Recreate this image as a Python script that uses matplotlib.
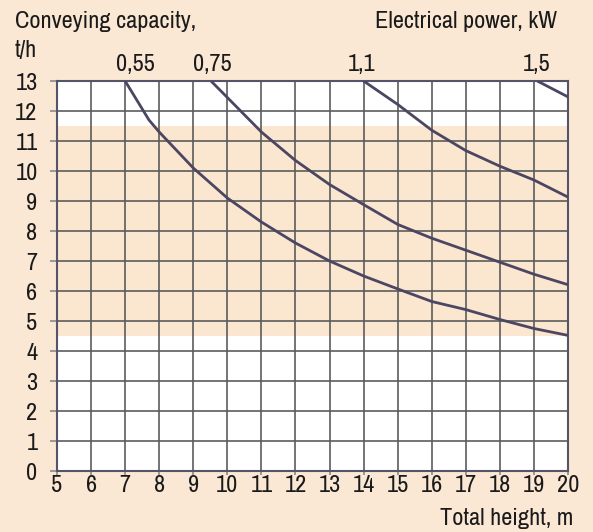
import matplotlib
matplotlib.use("Agg")
import matplotlib.pyplot as plt
import matplotlib.transforms as mtrans
from matplotlib import font_manager as fm

# ---- data ----
x_055 = [7, 7.7, 8, 9, 10, 11, 12, 13, 14, 15, 16, 17, 18, 19, 20]
y_055 = [13, 11.7, 11.3, 10.1, 9.1, 8.3, 7.6, 7.0, 6.5, 6.07, 5.65, 5.38, 5.05, 4.75, 4.52]

x_075 = [9.52, 10, 11, 12, 13, 14, 15, 16, 17, 18, 19, 20]
y_075 = [13, 12.45, 11.3, 10.35, 9.55, 8.88, 8.22, 7.76, 7.36, 6.96, 6.56, 6.21]

x_11 = [14, 15, 16, 17, 18, 19, 20]
y_11 = [13, 12.22, 11.36, 10.68, 10.16, 9.7, 9.13]

x_15 = [19.1, 20]
y_15 = [13, 12.47]

power_labels = ["0,55", "0,75", "1,1", "1,5"]
power_label_x = [7.29, 9.56, 13.94, 19.07]

band_low, band_high = 4.5, 11.5
x_ticks = list(range(5, 21))
y_ticks = list(range(0, 14))

# ---- font choice: prefer a condensed sans if one is installed ----
names = {f.name: f for f in fm.fontManager.ttflist}
font_kw = {"family": ["Liberation Sans", "DejaVu Sans"]}
narrow = [n for n in names if "Narrow" in n or "Condensed" in n]
if "Liberation Sans Narrow" in names:
    font_kw = {"family": ["Liberation Sans Narrow", "DejaVu Sans"]}
elif narrow:
    font_kw = {"family": [narrow[0], "DejaVu Sans"]}
else:
    cond = [f for f in fm.fontManager.ttflist
            if f.name == "DejaVu Sans" and "Condensed" in f.fname]
    if cond:
        font_kw = {"family": ["DejaVu Sans"], "stretch": "condensed"}
plt.rcParams["font.family"] = font_kw["family"]
if "stretch" in font_kw:
    plt.rcParams["font.stretch"] = font_kw["stretch"]

# ---- style ----
BG = "#fbe8d4"
BAND = "#fbe6d0"
GRID = "#5c5c5c"
CURVE = "#4b4662"
TXT = "#1a1a1a"
FS = 17.5

W, H = 593, 532
fig = plt.figure(figsize=(W / 100, H / 100), dpi=100, facecolor=BG)
L, R, T, B = 57, 568, 81, 471
ax = fig.add_axes([L / W, 1 - B / H, (R - L) / W, (B - T) / H])
ax.set_facecolor("white")

ax.axhspan(band_low, band_high, color=BAND, zorder=0, lw=0)

ax.set_xlim(5, 20)
ax.set_ylim(0, 13)
ax.set_xticks(x_ticks)
ax.set_yticks(y_ticks)
ax.grid(True, color=GRID, lw=1.2, zorder=1)
ax.set_axisbelow(False)

for s in ax.spines.values():
    s.set_color("#55556a")
    s.set_linewidth(1.5)
    s.set_zorder(3)

ax.tick_params(axis="y", length=5, width=1.2, color="#8a8a8a", pad=9,
               labelsize=FS, labelcolor=TXT)
ax.tick_params(axis="x", length=3, width=1.2, color="#8a8a8a", pad=0,
               labelsize=FS, labelcolor=TXT)

for xs, ys in [(x_055, y_055), (x_075, y_075), (x_11, y_11), (x_15, y_15)]:
    ax.plot(xs, ys, color=CURVE, lw=2.0, zorder=4, solid_capstyle="butt",
            solid_joinstyle="round")

off = mtrans.ScaledTranslation(0, 10 / 100, fig.dpi_scale_trans)
for lab, xv in zip(power_labels, power_label_x):
    ax.text(xv, 1.0, lab, transform=ax.get_xaxis_transform() + off,
            ha="center", va="baseline", fontsize=FS, color=TXT)


def ftext(x, y, s, ha="left"):
    fig.text(x / W, 1 - y / H, s, ha=ha, va="baseline", fontsize=FS,
             color=TXT)


ftext(15, 28, "Conveying capacity,")
ftext(15, 57, "t/h")
ftext(557, 28, "Electrical power, kW", ha="right")
ftext(573, 525, "Total height, m", ha="right")

fig.savefig("out.png", dpi=100, facecolor=BG)
